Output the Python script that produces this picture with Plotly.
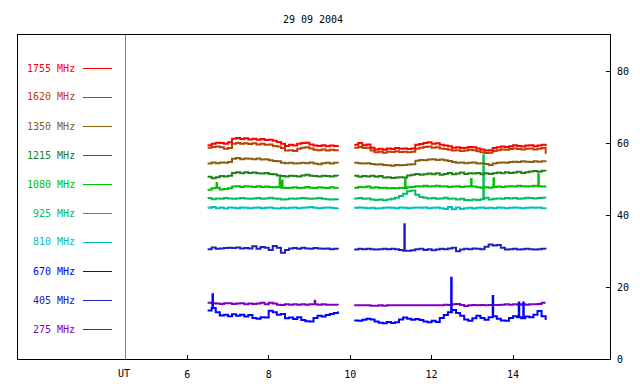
import numpy as np
import plotly.graph_objects as go

TITLE = "29 09 2004"
FREQS = ["1755 MHz", "1620 MHz", "1350 MHz", "1215 MHz", "1080 MHz",
         "925 MHz", "810 MHz", "670 MHz", "405 MHz", "275 MHz"]
COLORS = ["#ff0000", "#c04000", "#8a6010", "#208020", "#00c000",
          "#00c060", "#00c0c0", "#0000ff", "#2020c0", "#8000c0"]
X_TICKS = [6, 8, 10, 12, 14]
Y_TICKS = [0, 20, 40, 60, 80]

# sample times (UT hours) of the two observing segments
T1 = [round(6.5 + 0.1 * k, 2) for k in range(33)]
T2 = [round(10.1 + 0.1 * k, 2) for k in range(48)]

F1755_1 = [59.4, 59.8, 60.1, 60.0, 59.8, 60.2, 61.2, 61.4, 61.1, 61.3, 61.0,
           61.2, 60.9, 61.1, 60.8, 60.9, 60.6, 60.3, 59.8, 59.2, 59.5, 59.3,
           59.8, 60.0, 60.1, 59.6, 59.3, 59.2, 59.4, 59.1, 59.3, 59.2, 59.4]
F1620_1 = [58.7, 58.9, 59.0, 58.8, 58.4, 58.6, 59.8, 60.0, 59.8, 59.9, 59.7,
           59.9, 59.6, 59.8, 59.5, 59.6, 59.2, 59.0, 58.6, 57.9, 58.0, 57.8,
           58.4, 58.7, 58.8, 58.5, 58.1, 58.0, 58.2, 57.9, 58.1, 58.0, 58.2]
F1350_1 = [54.3, 54.6, 54.4, 54.6, 54.5, 54.7, 55.6, 55.8, 55.5, 55.7, 55.6,
           55.5, 55.7, 55.4, 55.5, 55.2, 55.0, 54.9, 54.5, 54.4, 54.5, 54.3,
           54.4, 54.5, 54.4, 54.6, 54.3, 54.1, 54.4, 54.5, 54.3, 54.5, 54.4]
F1215_1 = [50.6, 50.2, 50.5, 50.8, 50.7, 50.9, 51.7, 51.9, 51.6, 51.9, 51.7,
           51.8, 51.6, 51.5, 51.7, 51.4, 51.3, 51.0, 50.8, 50.7, 50.9, 50.8,
           50.7, 51.0, 51.2, 50.9, 50.8, 50.7, 50.9, 50.8, 50.7, 50.9, 50.8]
F1080_1 = [47.0, 47.4, 47.6, 47.1, 47.2, 47.4, 47.9, 48.0, 47.8, 48.0, 47.9,
           47.8, 48.0, 47.8, 47.9, 47.8, 47.7, 47.8, 47.6, 47.5, 47.6, 47.7,
           47.5, 47.6, 47.8, 47.6, 47.5, 47.7, 47.6, 47.5, 47.7, 47.6, 47.7]
F925_1 = [44.7, 44.4, 44.6, 44.5, 44.7, 44.6, 44.5, 44.6, 44.7, 44.6, 44.5,
          44.6, 44.7, 44.5, 44.6, 44.8, 44.6, 44.5, 44.3, 44.4, 44.6, 44.5,
          44.6, 44.7, 44.6, 44.5, 44.6, 44.7, 44.5, 44.4, 44.3, 44.4, 44.5]
F810_1 = [42.0, 42.2, 41.9, 42.1, 41.8, 42.1, 42.0, 41.9, 42.1, 42.0, 41.9,
          42.0, 42.1, 41.9, 42.0, 42.1, 41.9, 41.8, 42.0, 41.9, 42.0, 42.1,
          41.9, 42.0, 42.1, 42.2, 42.0, 41.9, 42.0, 42.1, 42.0, 41.9, 42.0]
F670_1 = [13.5, 14.2, 13.0, 12.1, 12.3, 11.9, 12.4, 12.0, 12.3, 11.8, 12.2,
          11.4, 11.2, 11.6, 11.5, 13.4, 13.0, 12.3, 12.5, 11.3, 11.5, 11.1,
          11.6, 10.8, 10.5, 10.4, 11.4, 12.0, 11.8, 12.2, 12.5, 12.8, 13.2]
F405_1 = [30.5, 31.0, 30.6, 30.7, 30.8, 30.9, 30.8, 31.0, 30.7, 30.8, 30.7,
          31.3, 30.6, 31.1, 30.9, 30.3, 31.4, 30.9, 29.5, 30.3, 30.7, 30.8,
          30.6, 30.9, 30.7, 30.6, 30.8, 30.7, 30.6, 30.7, 30.5, 30.6, 30.5]
F275_1 = [15.6, 15.5, 15.4, 15.3, 15.5, 15.5, 15.3, 15.4, 15.5, 15.2, 15.4,
          15.3, 15.4, 15.6, 15.2, 15.6, 15.4, 15.1, 15.0, 15.2, 15.1, 15.2,
          15.1, 15.2, 15.1, 15.2, 15.2, 15.1, 15.2, 15.1, 15.1, 15.1, 15.0]

F1755_2 = [59.5, 60.0, 59.4, 59.6, 58.7, 58.2, 58.4, 58.1, 58.5, 58.3, 58.6, 58.4,
           58.5, 58.3, 58.5, 59.5, 59.7, 60.0, 60.2, 59.8, 59.9, 59.5, 59.3, 59.1,
           58.7, 58.8, 58.6, 58.7, 58.9, 58.8, 58.5, 58.2, 57.9, 58.0, 58.6, 58.8,
           59.0, 58.9, 59.1, 59.4, 59.2, 59.0, 59.3, 59.4, 59.1, 59.3, 59.5, 59.2]
F1620_2 = [58.7, 58.9, 58.6, 58.7, 57.9, 57.4, 57.6, 57.3, 57.6, 57.5, 57.7, 57.5,
           57.6, 57.4, 57.6, 58.4, 58.7, 58.9, 59.0, 58.7, 58.8, 58.5, 58.3, 58.1,
           57.9, 58.0, 57.8, 57.9, 58.1, 58.0, 57.7, 57.4, 57.2, 57.3, 57.8, 58.0,
           58.2, 58.1, 58.3, 58.5, 58.3, 58.2, 58.4, 58.5, 58.2, 58.4, 58.6, 57.0]
F1350_2 = [54.5, 54.4, 54.3, 54.4, 54.2, 54.0, 54.1, 53.9, 53.8, 53.7, 53.9, 53.8,
           53.9, 54.0, 54.1, 55.1, 55.3, 55.2, 55.4, 55.5, 55.3, 55.4, 55.2, 55.0,
           54.7, 54.5, 54.6, 54.4, 54.5, 54.6, 54.3, 54.4, 54.2, 53.9, 54.3, 54.5,
           54.6, 54.5, 54.7, 54.8, 54.7, 54.9, 54.8, 54.7, 54.9, 54.8, 54.9, 54.8]
F1215_2 = [50.9, 50.6, 50.8, 50.7, 50.9, 50.6, 50.8, 50.4, 50.5, 50.3, 50.4, 50.5,
           50.4, 51.0, 51.2, 51.4, 51.2, 51.3, 51.5, 51.3, 51.6, 51.2, 51.4, 51.7,
           51.3, 51.5, 51.8, 51.4, 51.6, 51.5, 51.7, 51.3, 51.6, 51.4, 51.6, 51.8,
           51.6, 51.9, 51.7, 51.8, 52.0, 51.7, 51.9, 52.1, 52.2, 52.0, 52.3, 52.2]
F1080_2 = [47.6, 47.8, 47.7, 47.9, 47.6, 47.7, 47.5, 47.6, 47.4, 47.5, 47.4, 47.6,
           47.5, 47.7, 47.8, 48.0, 47.9, 48.1, 47.9, 48.0, 48.1, 47.9, 48.0, 47.8,
           47.9, 48.0, 47.8, 47.9, 48.0, 47.9, 47.7, 47.6, 47.7, 47.6, 47.8, 47.9,
           47.8, 47.9, 48.0, 47.9, 48.1, 48.0, 47.9, 48.0, 48.1, 48.0, 47.9, 48.0]
F925_2 = [44.6, 44.7, 44.5, 44.6, 44.3, 44.2, 44.3, 44.1, 44.3, 44.5, 44.8, 45.3,
          45.9, 46.6, 46.8, 45.6, 45.0, 44.8, 44.6, 44.7, 44.5, 44.6, 44.8, 44.5,
          44.6, 44.3, 44.5, 44.2, 44.1, 44.3, 44.2, 44.4, 44.8, 44.3, 44.5, 44.6,
          44.5, 44.7, 44.6, 44.7, 44.5, 44.6, 44.8, 44.7, 44.6, 44.7, 44.8, 44.7]
F810_2 = [42.0, 42.1, 42.0, 41.9, 42.0, 41.8, 41.9, 42.0, 42.1, 42.0, 41.9, 42.1,
          42.0, 41.9, 42.0, 42.1, 42.0, 42.1, 41.9, 42.0, 42.1, 41.9, 41.7, 42.2,
          41.6, 42.1, 41.7, 41.9, 42.0, 41.8, 42.0, 42.1, 41.9, 42.0, 41.9, 42.1,
          42.0, 41.9, 42.0, 42.1, 42.0, 41.9, 42.0, 42.1, 42.0, 42.1, 41.9, 42.0]
F670_2 = [10.7, 10.6, 10.9, 11.2, 11.0, 10.4, 10.1, 9.9, 10.3, 10.0, 10.2, 11.0,
          11.5, 11.2, 10.9, 11.1, 10.8, 10.4, 10.2, 10.6, 10.3, 11.4, 12.2, 13.0,
          13.6, 12.8, 12.0, 11.0, 10.6, 11.3, 12.0, 11.4, 10.9, 11.6, 11.9, 11.2,
          10.7, 10.6, 11.4, 11.9, 11.6, 11.3, 11.8, 11.6, 12.3, 13.3, 11.9, 10.8]
F405_2 = [30.4, 30.6, 30.5, 30.6, 30.5, 30.4, 30.5, 30.6, 30.5, 30.6, 30.5, 30.3,
          30.1, 30.1, 30.2, 30.5, 30.6, 30.3, 30.5, 30.2, 30.4, 30.6, 30.5, 30.7,
          30.9, 29.9, 30.4, 30.6, 30.5, 30.7, 30.6, 30.5, 31.2, 31.8, 31.5, 31.7,
          30.9, 30.4, 30.5, 30.6, 30.4, 30.5, 30.6, 30.5, 30.4, 30.5, 30.6, 30.5]
F275_2 = [14.9, 14.9, 14.9, 14.9, 14.8, 14.8, 14.9, 14.8, 14.9, 14.9, 14.9, 14.9,
          14.9, 14.9, 14.9, 14.9, 14.9, 14.9, 14.9, 14.9, 14.9, 14.9, 15.1, 15.0,
          15.2, 15.3, 15.0, 14.7, 14.9, 15.0, 14.9, 15.0, 14.9, 15.0, 15.0, 15.0,
          15.1, 15.2, 15.1, 15.2, 15.1, 15.2, 15.1, 15.2, 15.2, 15.3, 15.6, 15.6]

# short bursts / spikes (time, value)
SPIKES_1080 = [(6.72, 48.9), (8.27, 50.4), (8.33, 49.5), (11.35, 49.9),
               (12.97, 50.0), (13.52, 50.2), (14.62, 51.3)]
SPIKES_925 = [(13.27, 56.6)]
SPIKES_670 = [(6.62, 18.0), (12.48, 22.6), (13.5, 17.5), (14.14, 15.7), (14.25, 15.7)]
SPIKES_405 = [(11.33, 37.4)]
SPIKES_275 = [(9.13, 16.2)]

SERIES = [
    (F1755_1, F1755_2, []), (F1620_1, F1620_2, []), (F1350_1, F1350_2, []),
    (F1215_1, F1215_2, []), (F1080_1, F1080_2, SPIKES_1080),
    (F925_1, F925_2, SPIKES_925), (F810_1, F810_2, []),
    (F670_1, F670_2, SPIKES_670), (F405_1, F405_2, SPIKES_405),
    (F275_1, F275_2, SPIKES_275),
]


def build(ts, vs, spikes):
    pts = list(zip(ts, vs))
    for st, sv in spikes:
        if ts[0] <= st <= ts[-1]:
            i = max(k for k in range(len(ts)) if ts[k] <= st)
            pts += [(st, sv), (st + 0.012, vs[i])]
    pts.sort()
    return [p[0] for p in pts], [p[1] for p in pts]


fig = go.Figure()
for idx in range(len(SERIES) - 1, -1, -1):
    s1, s2, sp = SERIES[idx]
    x1, y1 = build(T1, s1, sp)
    x2, y2 = build(T2, s2, sp)
    fig.add_trace(go.Scatter(
        x=x1 + [None] + x2, y=y1 + [None] + y2, mode="lines",
        line=dict(color=COLORS[idx], width=2, shape="hv"),
        name=FREQS[idx], hoverinfo="skip"))

L, R, T, B = 18, 30, 35, 25
W, H = 640, 384
PW, PH = W - L - R, H - T - B
FONT = "DejaVu Sans Mono"


def px(x):
    return (x - L) / PW


def py(y):
    return (H - B - y) / PH


shapes = []
annotations = []
for i, (lab, col) in enumerate(zip(FREQS, COLORS)):
    yy = 68 + 29 * i
    annotations.append(dict(x=px(77), y=py(yy), xref="paper", yref="paper",
                            text=lab, showarrow=False, xanchor="right", yanchor="middle",
                            font=dict(color=col, size=10, family=FONT)))
    shapes.append(dict(type="line", xref="paper", yref="paper",
                       x0=px(83), x1=px(112), y0=py(yy + 0.5), y1=py(yy + 0.5),
                       line=dict(color=col, width=1)))

shapes.append(dict(type="line", xref="paper", yref="paper", x0=px(125.5), x1=px(125.5),
                   y0=0, y1=1, line=dict(color="#808080", width=1)))
annotations.append(dict(x=px(124), y=py(373), xref="paper", yref="paper", text="UT",
                        showarrow=False, xanchor="center", yanchor="middle",
                        font=dict(size=10, family=FONT, color="black")))

fig.update_layout(
    width=W, height=H, autosize=False,
    margin=dict(l=L, r=R, t=T, b=B, pad=0, autoexpand=False),
    paper_bgcolor="white", plot_bgcolor="white",
    font=dict(family=FONT, size=10, color="black"),
    showlegend=False,
    title=dict(text=TITLE, x=313 / W, xanchor="center", y=1 - 19 / H, yanchor="middle",
               font=dict(size=10, family=FONT, color="black")),
    xaxis=dict(range=[1.845, 16.38], tickvals=X_TICKS, ticks="inside", ticklen=4,
               tickcolor="black", showline=True, linecolor="black", linewidth=1,
               mirror=True, showgrid=False, zeroline=False, ticklabelstandoff=6,
               automargin=False),
    yaxis=dict(range=[0, 90], tickvals=Y_TICKS, side="right", ticks="inside",
               ticklen=4, tickcolor="black", showline=True, linecolor="black",
               linewidth=1, mirror=True, showgrid=False, zeroline=False,
               ticklabelstandoff=4, automargin=False),
    shapes=shapes, annotations=annotations,
)

fig.write_html("out.html", config={"displayModeBar": False},
               post_script="document.body.style.margin='0px';")
